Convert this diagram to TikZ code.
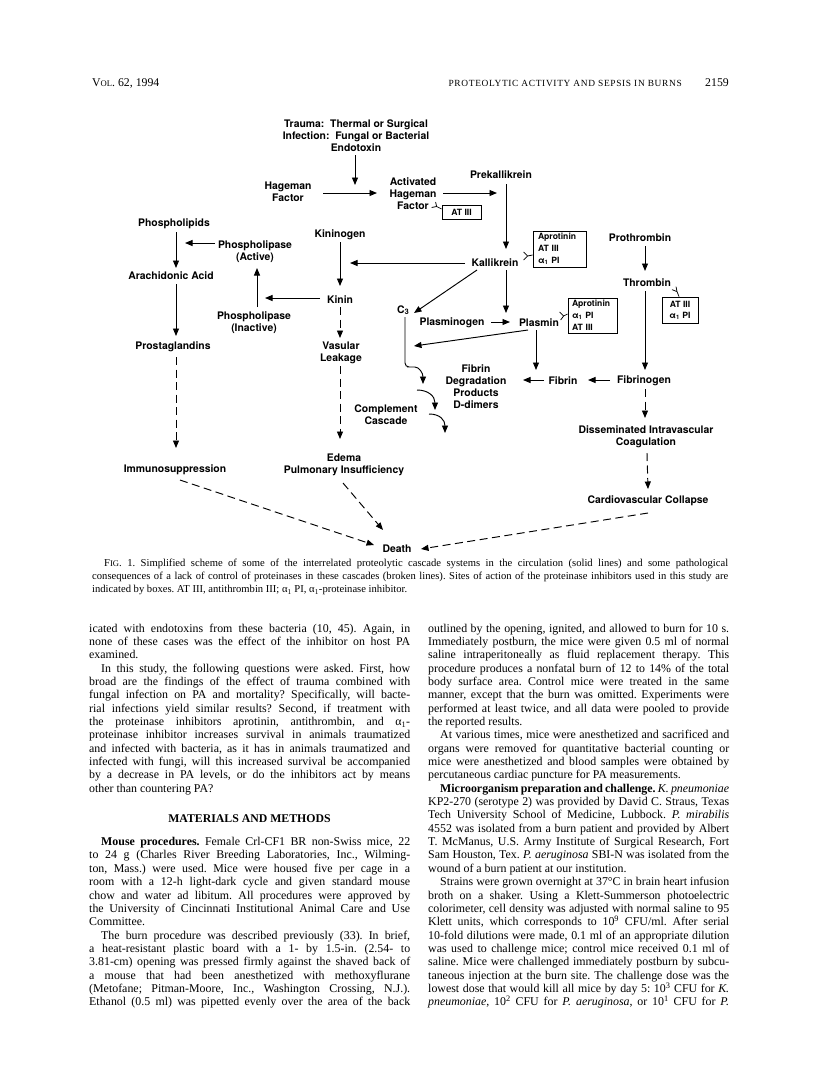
\documentclass[tikz,border=0pt]{standalone}
\usepackage{fontspec}
\setmainfont{Liberation Serif}
\newfontfamily\heros{TeX Gyre Heros}
\newfontfamily\hdsc[LetterSpace=7]{Liberation Serif}
\usetikzlibrary{arrows.meta,calc}
\newcommand\dfont{\heros\bfseries\fontsize{10.4}{12}\selectfont}
\newcommand\bxfont{\heros\bfseries\fontsize{8.6}{12}\selectfont}
\newcommand\txfont{\fontsize{11.9}{13.35}\selectfont}
\newcommand\cpfont{\fontsize{10.6}{12.5}\selectfont}
\newcommand\smcap[1]{{\fontsize{8.6}{10}\selectfont #1}}
\newcommand\bodyindent{\hspace*{12pt}}
\newcommand\bodyLJ[2]{\node[txl] (L#1) at (89,{632+13.35*(#1-1)}) {\makebox[321pt][s]{#2}};}
\newcommand\bodyLE[2]{\node[txl] (L#1) at (89,{632+13.35*(#1-1)}) {#2};}
\newcommand\bodyRJ[2]{\node[txl] (R#1) at (428,{632+13.35*(#1-1)}) {\makebox[301pt][s]{#2}};}
\newcommand\bodyRE[2]{\node[txl] (R#1) at (428,{632+13.35*(#1-1)}) {#2};}
\begin{document}
\frenchspacing
\begin{tikzpicture}[x=1pt,y=-1pt,
  txl/.style={anchor=base west, inner sep=0pt, font=\txfont},
  lab/.style={font=\dfont, align=center, inner sep=1pt},
  ibox/.style={draw, line width=0.8pt, font=\bxfont, inner sep=0pt},
  arr/.style={line width=0.95pt, -{Triangle[length=7.5pt,width=6pt]}},
  dsh/.style={arr, dash pattern=on 8pt off 4.5pt},
  inh/.style={line width=0.75pt}]
\fill[white] (0,0) rectangle (816,1077);
\useasboundingbox (0,0) rectangle (816,1077);

% ---------- running head ----------
\node[anchor=base west, inner sep=0pt, font=\fontsize{11.8}{13}\selectfont] (hvol) at (92,86) {V\smcap{OL}. 62, 1994};
\node[anchor=base east, inner sep=0pt, font=\hdsc\fontsize{9.4}{11}\selectfont] (htitle) at (682,86) {PROTEOLYTIC ACTIVITY AND SEPSIS IN BURNS};
\node[anchor=base east, inner sep=0pt, font=\fontsize{11.8}{13}\selectfont] (hpage) at (729,86) {2159};

% ---------- diagram nodes ----------
\node[lab] (trauma) at (356,136) {Trauma:\ \ Thermal or Surgical\\Infection:\ \ Fungal or Bacterial\\Endotoxin};
\node[lab] (hageman) at (288,192) {Hageman\\Factor};
\node[lab] (activated) at (413,194) {Activated\\Hageman\\Factor};
\node[lab] (prekal) at (501,175) {Prekallikrein};
\node[lab] (kallik) at (495,263) {Kallikrein};
\node[lab] (kininogen) at (340,235) {Kininogen};
\node[lab] (kinin) at (340,300) {Kinin};
\node[lab] (phosA) at (255,252) {Phospholipase\\(Active)};
\node[lab] (phosI) at (254,323) {Phospholipase\\(Inactive)};
\node[lab] (phlip) at (174,224) {Phospholipids};
\node[lab] (arach) at (171,276) {Arachidonic Acid};
\node[lab] (prosta) at (173,347) {Prostaglandins};
\node[lab] (vasular) at (341,353) {Vasular\\Leakage};
\node[lab] (complement) at (386,415) {Complement\\Cascade};
\node[lab] (edema) at (344,465) {Edema\\Pulmonary Insufficiency};
\node[lab] (immuno) at (175,470) {Immunosuppression};
\node[lab] (c3) at (403,310) {C\raisebox{-0.6pt}{\fontsize{7.6}{8}\selectfont 3}};
\node[lab] (plasminogen) at (452,323) {Plasminogen};
\node[lab] (plasmin) at (539,323) {Plasmin};
\node[lab] (fdp) at (476,387) {Fibrin\\Degradation\\Products\\D-dimers};
\node[lab] (fibrin) at (563,381) {Fibrin};
\node[lab] (fibrinogen) at (644,381) {Fibrinogen};
\node[lab] (prothrombin) at (640,238) {Prothrombin};
\node[lab] (thrombin) at (647,283) {Thrombin};
\node[lab] (dic) at (646,437) {Disseminated Intravascular\\Coagulation};
\node[lab] (cardio) at (648,501) {Cardiovascular Collapse};
\node[lab] (death) at (397,549) {Death};

% inhibitor boxes
\node[ibox, minimum width=39, minimum height=14] (b1) at (461.5,212) {AT III};
\node[ibox, minimum width=53, minimum height=36, text width=43, align=left] (b2) at (559.5,249) {Aprotinin\\AT III\\α\textsubscript{1} PI};
\node[ibox, minimum width=49, minimum height=35, text width=41, align=left] (b3) at (592.5,315.5) {Aprotinin\\α\textsubscript{1} PI\\AT III};
\node[ibox, minimum width=36, minimum height=26, align=center, font=\heros\bfseries\fontsize{8.6}{11}\selectfont] (b4) at (680,310) {AT III\\α\textsubscript{1} PI};

% inhibitor symbols
\draw[inh] ($(b1.west)+(0,-3)$) -- ++(-5,-2.5) coordinate (f1) -- ++(-5,1) (f1) -- ++(-1,-4.5);
\draw[inh] ($(b2.west)+(0,6)$) -- ++(-5,1) coordinate (f2) -- ++(-4,-4) (f2) -- ++(-4,4);
\draw[inh] ($(b3.west)+(0,-1.5)$) -- ++(-4,2) coordinate (f3) -- ++(-4,-4) (f3) -- ++(-3,4);
\draw[inh] ($(b4.north)+(-1,0)$) -- ++(-2,-5) coordinate (f4) -- ++(-5,-2) (f4) -- ++(-1,-5);

% free connector ends
\coordinate (tj) at (355,185);
\coordinate (pk) at (497,193);
\coordinate (kj) at (350,263);
\coordinate (pj) at (265,298);
\coordinate (phj) at (185,243);
\coordinate (pfj) at (536,370);
\coordinate (plj) at (414,346);

% solid connectors
\draw[arr] ($(trauma)+(-1,19)$) -- (tj);
\draw[arr] ($(hageman)+(35,1)$) -- ($(activated)+(-36,-1)$);
\draw[arr] ($(activated)+(30,-1)$) -- (pk);
\draw[arr] ($(prekal)+(5,9)$) -- ($(kallik)+(11,-14)$);
\draw[arr] ($(kallik)+(-30,0)$) -- (kj);
\draw[arr] ($(kallik)+(11,7)$) -- ($(plasmin)+(-33,-10)$);
\draw[arr] ($(kallik)+(-18,7)$) -- ($(c3)+(11,3)$);
\draw[arr] ($(kininogen)+(0,7)$) -- ($(kinin)+(0,-14)$);
\draw[arr] ($(kinin)+(-20,-2)$) -- (pj);
\draw[arr] ($(phosI)+(3,-16)$) -- ($(phosA)+(2,16)$);
\draw[arr] ($(phosA)+(-40,-9)$) -- (phj);
\draw[arr] ($(phlip)+(2,8)$) -- ($(arach)+(5,-8)$);
\draw[arr] ($(arach)+(5,8)$) -- ($(prosta)+(3,-11)$);
\draw[arr] ($(prothrombin)+(5,8)$) -- ($(thrombin)+(-2,-12)$);
\draw[arr] ($(thrombin)+(-2,8)$) -- ($(fibrinogen)+(1,-11)$);
\draw[arr] ($(fibrinogen)+(-34,-1)$) -- ($(fibrin)+(25,-1)$);
\draw[arr] ($(fibrin)+(-19,-1)$) -- ($(fdp)+(47,-7)$);
\draw[arr] ($(plasmin)+(-3,7)$) -- (pfj);
\draw[arr] ($(plasmin)+(-11,7)$) -- (plj);
\draw[arr] ($(plasminogen)+(39,-1)$) -- ($(plasmin)+(-29,-1)$);

% complement cascade
\draw[arr, rounded corners=4pt] ($(c3)+(2,7)$) -- (405,367) -- (411,367) .. controls (419,367) and (423,373) .. (423,384);
\coordinate (cs1) at (417,390);
\coordinate (ce1) at (435,410);
\coordinate (cs2) at (429,414);
\coordinate (ce2) at (445,433);
\draw[arr] (cs1) .. controls (428,390) and (435,396) .. (ce1);
\draw[arr] (cs2) .. controls (440,414) and (445,420) .. (ce2);

% broken connectors
\draw[dsh] ($(prosta)+(3,10)$) -- ($(immuno)+(1,-22)$);
\draw[dsh] ($(kinin)+(0,7)$) -- ($(vasular)+(-1,-15)$);
\draw[dsh] ($(vasular)+(-1,13)$) -- ($(edema)+(-4,-26)$);
\draw[dsh] ($(edema)+(-1,18)$) -- ($(death)+(-14,-19)$);
\draw[dsh] ($(immuno)+(5,10)$) -- ($(death)+(-23,-4)$);
\draw[dsh] ($(cardio)+(0,12)$) -- ($(death)+(24,0)$);
\draw[dsh] ($(dic)+(1,16)$) -- ($(cardio)+(0,-12)$);
\draw[dsh] ($(fibrinogen)+(1,8)$) -- ($(dic)+(-1,-19)$);

% ---------- caption ----------
\node[txl, font=\cpfont] (cap1) at (104,566.5) {\makebox[624pt][s]{F\smcap{IG}. 1. Simplified scheme of some of the interrelated proteolytic cascade systems in the circulation (solid lines) and some pathological}};
\node[txl, font=\cpfont] (cap2) at (92,579.5) {\makebox[636pt][s]{consequences of a lack of control of proteinases in these cascades (broken lines). Sites of action of the proteinase inhibitors used in this study are}};
\node[txl, font=\cpfont] (cap3) at (92,592.5) {indicated by boxes. AT III, antithrombin III; α\textsubscript{1} PI, α\textsubscript{1}-proteinase inhibitor.};

% ---------- left column ----------
\bodyLJ{1}{icated with endotoxins from these bacteria (10, 45). Again, in}
\bodyLJ{2}{none of these cases was the effect of the inhibitor on host PA}
\bodyLE{3}{examined.}
\bodyLJ{4}{\bodyindent In this study, the following questions were asked. First, how}
\bodyLJ{5}{broad are the findings of the effect of trauma combined with}
\bodyLJ{6}{fungal infection on PA and mortality? Specifically, will bacte-}
\bodyLJ{7}{rial infections yield similar results? Second, if treatment with}
\bodyLJ{8}{the proteinase inhibitors aprotinin, antithrombin, and α\textsubscript{1}-}
\bodyLJ{9}{proteinase inhibitor increases survival in animals traumatized}
\bodyLJ{10}{and infected with bacteria, as it has in animals traumatized and}
\bodyLJ{11}{infected with fungi, will this increased survival be accompanied}
\bodyLJ{12}{by a decrease in PA levels, or do the inhibitors act by means}
\bodyLE{13}{other than countering PA?}
\node[anchor=base, inner sep=0pt, font=\bfseries\fontsize{11.8}{13}\selectfont] (heading) at (249.5,{636+13.35*14}) {MATERIALS AND METHODS};
\bodyLJ{17}{\bodyindent\textbf{Mouse procedures.} Female Crl-CF1 BR non-Swiss mice, 22}
\bodyLJ{18}{to 24 g (Charles River Breeding Laboratories, Inc., Wilming-}
\bodyLJ{19}{ton, Mass.) were used. Mice were housed five per cage in a}
\bodyLJ{20}{room with a 12-h light-dark cycle and given standard mouse}
\bodyLJ{21}{chow and water ad libitum. All procedures were approved by}
\bodyLJ{22}{the University of Cincinnati Institutional Animal Care and Use}
\bodyLE{23}{Committee.}
\bodyLJ{24}{\bodyindent The burn procedure was described previously (33). In brief,}
\bodyLJ{25}{a heat-resistant plastic board with a 1- by 1.5-in. (2.54- to}
\bodyLJ{26}{3.81-cm) opening was pressed firmly against the shaved back of}
\bodyLJ{27}{a mouse that had been anesthetized with methoxyflurane}
\bodyLJ{28}{(Metofane; Pitman-Moore, Inc., Washington Crossing, N.J.).}
\bodyLJ{29}{Ethanol (0.5 ml) was pipetted evenly over the area of the back}

% ---------- right column ----------
\bodyRJ{1}{outlined by the opening, ignited, and allowed to burn for 10 s.}
\bodyRJ{2}{Immediately postburn, the mice were given 0.5 ml of normal}
\bodyRJ{3}{saline intraperitoneally as fluid replacement therapy. This}
\bodyRJ{4}{procedure produces a nonfatal burn of 12 to 14\% of the total}
\bodyRJ{5}{body surface area. Control mice were treated in the same}
\bodyRJ{6}{manner, except that the burn was omitted. Experiments were}
\bodyRJ{7}{performed at least twice, and all data were pooled to provide}
\bodyRE{8}{the reported results.}
\bodyRJ{9}{\bodyindent At various times, mice were anesthetized and sacrificed and}
\bodyRJ{10}{organs were removed for quantitative bacterial counting or}
\bodyRJ{11}{mice were anesthetized and blood samples were obtained by}
\bodyRE{12}{percutaneous cardiac puncture for PA measurements.}
\bodyRJ{13}{\bodyindent\textbf{Microorganism preparation and challenge.} \textit{K. pneumoniae}}
\bodyRJ{14}{KP2-270 (serotype 2) was provided by David C. Straus, Texas}
\bodyRJ{15}{Tech University School of Medicine, Lubbock. \textit{P. mirabilis}}
\bodyRJ{16}{4552 was isolated from a burn patient and provided by Albert}
\bodyRJ{17}{T. McManus, U.S. Army Institute of Surgical Research, Fort}
\bodyRJ{18}{Sam Houston, Tex. \textit{P. aeruginosa} SBI-N was isolated from the}
\bodyRE{19}{wound of a burn patient at our institution.}
\bodyRJ{20}{\bodyindent Strains were grown overnight at 37°C in brain heart infusion}
\bodyRJ{21}{broth on a shaker. Using a Klett-Summerson photoelectric}
\bodyRJ{22}{colorimeter, cell density was adjusted with normal saline to 95}
\bodyRJ{23}{Klett units, which corresponds to 10\textsuperscript{9} CFU/ml. After serial}
\bodyRJ{24}{10-fold dilutions were made, 0.1 ml of an appropriate dilution}
\bodyRJ{25}{was used to challenge mice; control mice received 0.1 ml of}
\bodyRJ{26}{saline. Mice were challenged immediately postburn by subcu-}
\bodyRJ{27}{taneous injection at the burn site. The challenge dose was the}
\bodyRJ{28}{lowest dose that would kill all mice by day 5: 10\textsuperscript{3} CFU for \textit{K.}}
\bodyRJ{29}{\textit{pneumoniae}, 10\textsuperscript{2} CFU for \textit{P. aeruginosa}, or 10\textsuperscript{1} CFU for \textit{P.}}
\end{tikzpicture}
\end{document}
